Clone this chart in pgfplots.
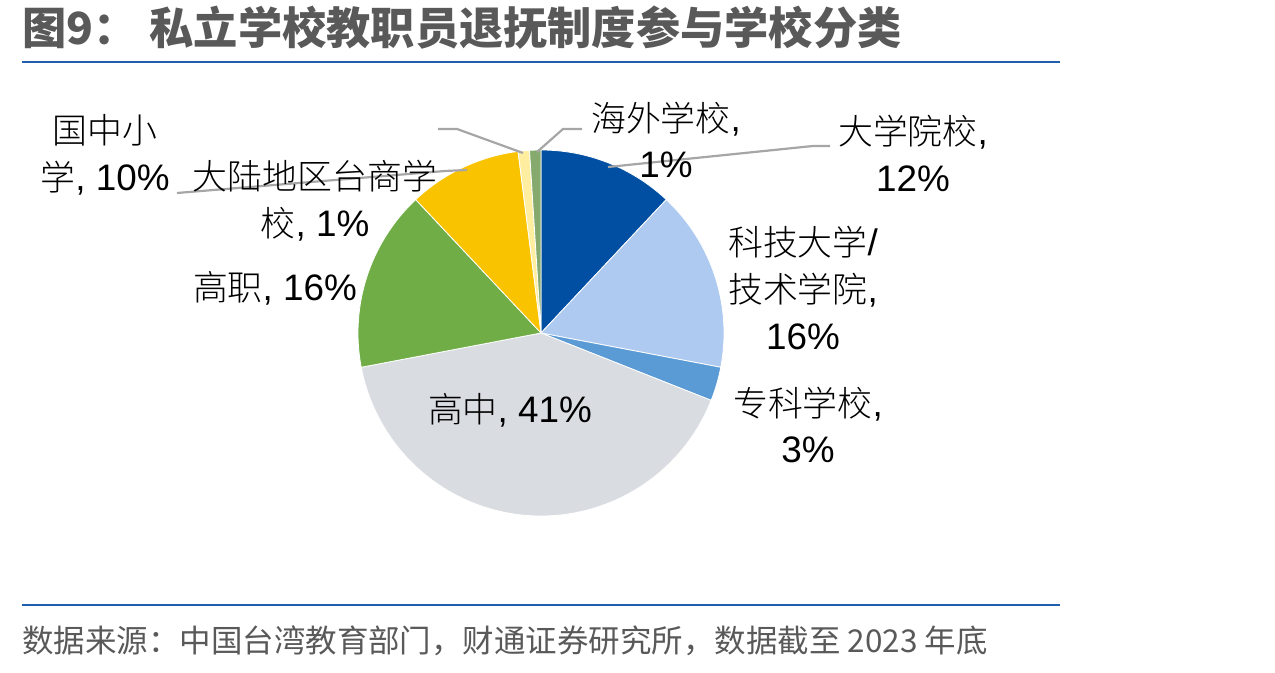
\documentclass[border=0pt]{standalone}
\usepackage{pgfplots}
\pgfplotsset{compat=1.18}
\usepackage{pgfplotstable}
\usepackage{fontspec}
\setmainfont{Liberation Sans}
\newfontfamily\cjk{Noto Sans CJK SC}
\newfontfamily\cjklight{Noto Sans CJK SC}[UprightFont=* Light]
\newcommand\zh[1]{{\fontsize{35}{47}\selectfont\cjklight #1}}

% slice colours, clockwise from 12 o'clock
\definecolor{pie0}{RGB}{0,79,162}
\definecolor{pie1}{RGB}{174,202,240}
\definecolor{pie2}{RGB}{91,155,213}
\definecolor{pie3}{RGB}{217,220,225}
\definecolor{pie4}{RGB}{112,173,71}
\definecolor{pie5}{RGB}{250,195,0}
\definecolor{pie6}{RGB}{255,238,160}
\definecolor{pie7}{RGB}{134,170,110}
\definecolor{titlegrey}{RGB}{89,89,89}
\definecolor{rule}{RGB}{31,95,173}
\definecolor{leader}{RGB}{166,166,166}

% shares in percent: 大学院校, 科技大学/技术学院, 专科学校, 高中, 高职,
% 国中小学, 大陆地区台商学校, 海外学校
\pgfplotstableread{
share
12
16
3
41
16
10
1
1
}\piedata

% start and end angle of every slice (clockwise from 90 degrees)
\def\cumshare{0}
\pgfplotsforeachungrouped \i in {0,...,7}{%
  \pgfplotstablegetelem{\i}{share}\of\piedata
  \let\s=\pgfplotsretval
  \pgfmathsetmacro\startang{90-3.6*\cumshare}%
  \pgfmathsetmacro\cumshare{\cumshare+\s}%
  \pgfmathsetmacro\endang{90-3.6*\cumshare}%
  \expandafter\xdef\csname pieS\i\endcsname{\startang}%
  \expandafter\xdef\csname pieE\i\endcsname{\endang}%
}

\tikzset{
  lbl/.style={font=\fontsize{37}{47}\selectfont, align=center, inner sep=0pt, text=black},
  leaderline/.style={draw=leader, line width=2.2bp},
}

\begin{document}
\begin{tikzpicture}
\begin{axis}[
  x=1bp, y=1bp,
  xmin=0, xmax=1275, ymin=0, ymax=673,
  hide axis, clip=false,
]
\path (axis cs:0,0) rectangle (axis cs:1275,673);

% pie slices
\pgfplotsinvokeforeach{0,...,7}{
  \fill[fill=pie#1, draw=white, line width=0.8bp]
    (axis cs:541,340) -- ++(\csname pieS#1\endcsname:183bp)
    arc[start angle=\csname pieS#1\endcsname, end angle=\csname pieE#1\endcsname, radius=183bp]
    -- cycle;
}

% leader lines
\draw[leaderline] (axis cs:608,506) -- (axis cs:813,527) -- (axis cs:830,527);
\draw[leaderline] (axis cs:537,521) -- (axis cs:563,544) -- (axis cs:582,544);
\draw[leaderline] (axis cs:523,520) -- (axis cs:457,544) -- (axis cs:438,544);
\draw[leaderline] (axis cs:467,503) -- (axis cs:445,502) -- (axis cs:177,480);

% data labels
\node[lbl] at (axis cs:666,533) {\zh{海外学校},\\1\%};
\node[lbl] at (axis cs:913,519.5) {\zh{大学院校},\\12\%};
\node[lbl] at (axis cs:803,385) {\zh{科技大学}/\\\zh{技术学院},\\16\%};
\node[lbl] at (axis cs:808,248) {\zh{专科学校},\\3\%};
\node[lbl] at (axis cs:510,263) {\zh{高中}, 41\%};
\node[lbl] at (axis cs:275,385) {\zh{高职}, 16\%};
\node[lbl] at (axis cs:315,472) {\zh{大陆地区台商学}\\\zh{校}, 1\%};
\node[lbl] at (axis cs:105,518) {\zh{国中小}\\\zh{学}, 10\%};

% title, rules and source
\node[anchor=west, inner sep=0pt, text=titlegrey, font=\fontsize{44.4}{44.4}\selectfont\cjk\bfseries]
  at (axis cs:22,645) {图9：\hspace{12bp}私立学校教职员退抚制度参与学校分类};
\draw[rule, line width=2bp] (axis cs:22,611) -- (axis cs:1060,611);
\draw[rule, line width=2bp] (axis cs:22,68) -- (axis cs:1060,68);
\node[anchor=west, inner sep=0pt, text=titlegrey, font=\fontsize{31.6}{31.6}\selectfont\cjk]
  at (axis cs:22,32) {数据来源：中国台湾教育部门，财通证券研究所，数据截至 2023 年底};
\end{axis}
\end{tikzpicture}
\end{document}
